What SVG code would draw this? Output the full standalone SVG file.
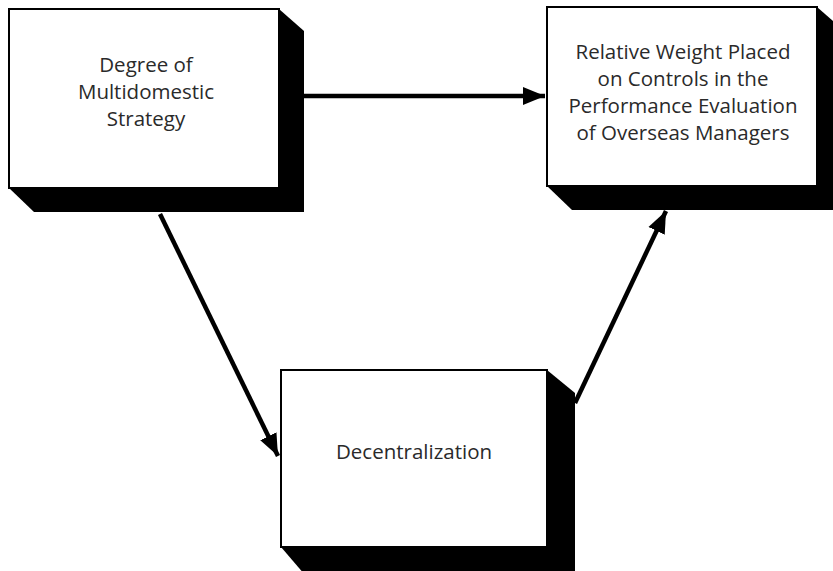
<svg xmlns="http://www.w3.org/2000/svg" width="833" height="571" viewBox="0 0 833 571">
<style>
.shadow{fill:#000}
.face{fill:#fff;stroke:#000;stroke-width:2}
.lbl{font-family:"Open Sans","Liberation Sans",sans-serif;font-size:20.5px;fill:#2a2a2a;text-anchor:middle}
.conn{stroke:#000;stroke-width:4.5;fill:none}
</style>
<defs>
<marker id="ah" markerUnits="userSpaceOnUse" markerWidth="24" markerHeight="20" refX="22" refY="9" orient="auto" viewBox="0 0 24 18">
<path d="M0,0 L22,9 L0,18 Z" fill="#000"/>
</marker>
</defs>
<g id="connectors">
<line class="conn" x1="304" y1="96" x2="545" y2="96" marker-end="url(#ah)"/>
<line class="conn" x1="160" y1="214" x2="278" y2="456" marker-end="url(#ah)"/>
<line class="conn" x1="575" y1="403" x2="666" y2="211" marker-end="url(#ah)"/>
</g>
<g id="node-strategy">
<polygon class="shadow" points="279,9 304,31 304,212 34,212 9,188"/>
<rect class="face" x="9" y="9" width="270" height="179"/>
<text class="lbl"><tspan x="146" y="72">Degree of</tspan><tspan x="146" y="99">Multidomestic</tspan><tspan x="146" y="126">Strategy</tspan></text>
</g>
<g id="node-weight">
<polygon class="shadow" points="817,7 842,29 842,210 572,210 547,186"/>
<rect class="face" x="547" y="7" width="270" height="179"/>
<text class="lbl"><tspan x="683" y="59">Relative Weight Placed</tspan><tspan x="683" y="86">on Controls in the</tspan><tspan x="683" y="113">Performance Evaluation</tspan><tspan x="683" y="140">of Overseas Managers</tspan></text>
</g>
<g id="node-decentralization">
<polygon class="shadow" points="547,370 575,393 575,575 305,575 281,547"/>
<rect class="face" x="281" y="370" width="266" height="177"/>
<text class="lbl" x="414" y="459">Decentralization</text>
</g>
</svg>
